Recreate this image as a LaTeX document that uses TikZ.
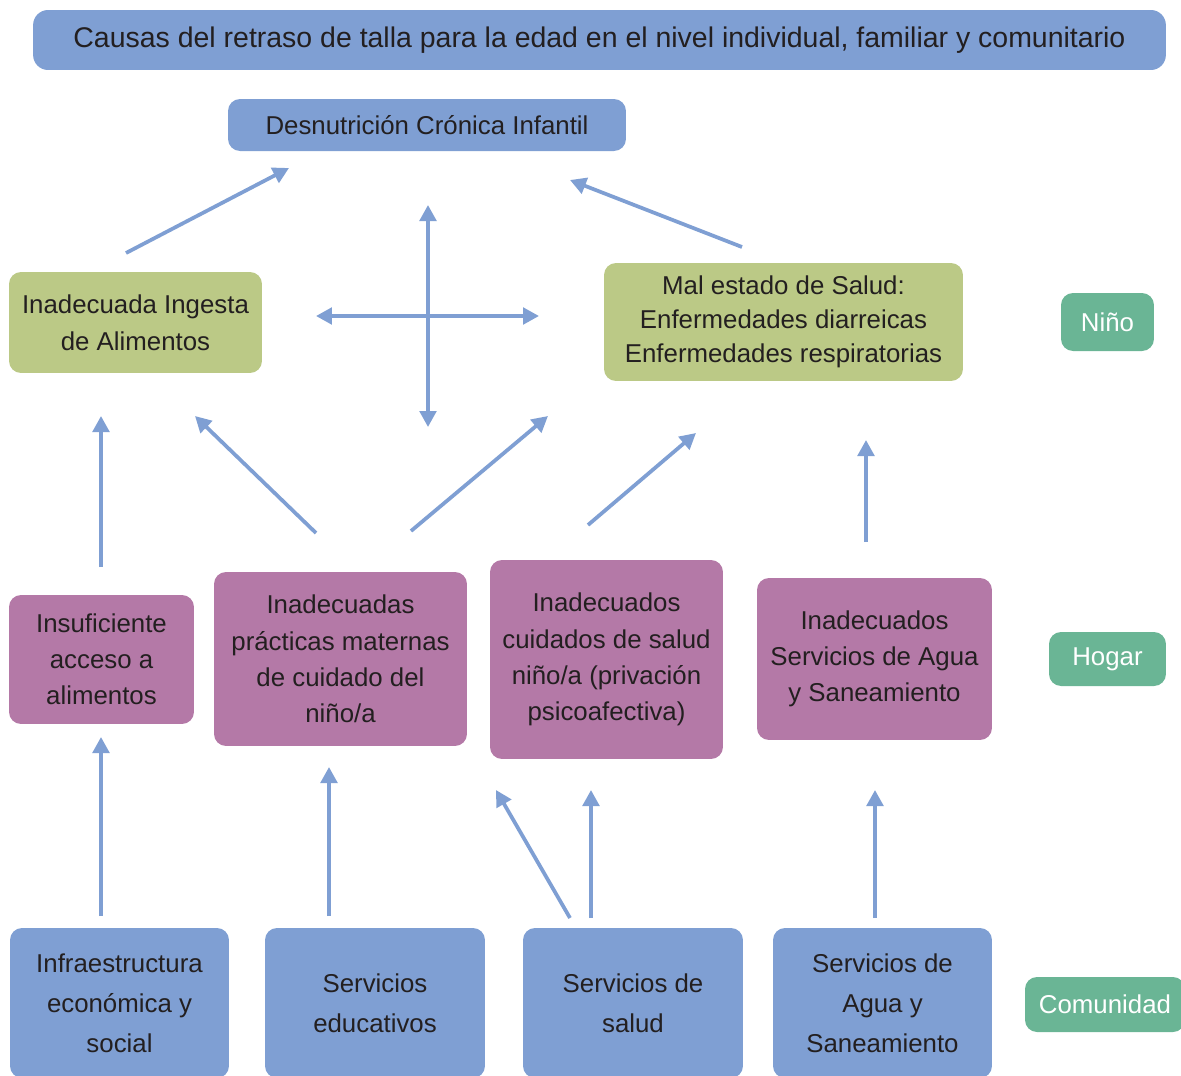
\documentclass[tikz,border=0pt]{standalone}
\usepackage{fontspec}
\setmainfont{Liberation Sans}
\usetikzlibrary{arrows.meta,positioning}
\definecolor{azul}{HTML}{7F9FD3}
\definecolor{oliva}{HTML}{BBC986}
\definecolor{malva}{HTML}{B479A7}
\definecolor{verde}{HTML}{6AB595}
\definecolor{texto}{HTML}{231F20}
\tikzset{>={Triangle[width=0.33cm,length=0.32cm]}}
\tikzset{caja/.style={rounded corners=0.24cm, text=texto, align=center,
    inner sep=0pt, font=\fontsize{14.7}{20.6}\selectfont}}
\tikzset{nivel/.style={caja, fill=verde, text=white}}
\tikzset{flecha/.style={->, draw=azul, line width=0.075cm}}

\begin{document}
\begin{tikzpicture}[x=0.02cm, y=-0.02cm]
  \useasboundingbox (0,0) rectangle (1181,1076);

  % causas
  \node[caja, fill=azul, minimum width=22.66cm, minimum height=1.2cm, rounded corners=0.3cm,
    font=\fontsize{16.2}{20}\selectfont]
    (titulo) at (599.5,40) {Causas del retraso de talla para la edad en el nivel individual, familiar y comunitario};
  \node[caja, fill=azul, minimum width=7.96cm, minimum height=1.04cm] (dci) at (427,125)
    {Desnutrición Crónica Infantil};

  % nino
  \node[caja, fill=oliva, minimum width=5.06cm, minimum height=2.02cm,
    font=\fontsize{14.7}{21}\selectfont] (ingesta) at (135.5,322.5)
    {Inadecuada Ingesta\\de Alimentos};
  \node[caja, fill=oliva, minimum width=7.18cm, minimum height=2.36cm,
    font=\fontsize{14.7}{19.5}\selectfont] (salud) at (783.5,322)
    {Mal estado de Salud:\\Enfermedades diarreicas\\Enfermedades respiratorias};

  % hogar
  \node[caja, fill=malva, minimum width=3.7cm, minimum height=2.58cm] (acceso) at (101.5,659.5)
    {Insuficiente\\acceso a\\alimentos};
  \node[caja, fill=malva, minimum width=5.06cm, minimum height=3.48cm] (practicas) at (340.5,659)
    {Inadecuadas\\prácticas maternas\\de cuidado del\\niño/a};
  \node[caja, fill=malva, minimum width=4.66cm, minimum height=3.98cm] (cuidados) at (606.5,659.5)
    {Inadecuados\\cuidados de salud\\niño/a (privación\\psicoafectiva)};
  \node[caja, fill=malva, minimum width=4.7cm, minimum height=3.24cm] (aguahogar) at (874.5,659)
    {Inadecuados\\Servicios de Agua\\y Saneamiento};

  % comunidad
  \node[caja, fill=azul, minimum width=4.38cm, minimum height=3cm,
    font=\fontsize{14.7}{22.7}\selectfont] (infra) at (119.5,1003)
    {Infraestructura\\económica y\\social};
  \node[caja, fill=azul, minimum width=4.4cm, minimum height=3cm,
    font=\fontsize{14.7}{22.7}\selectfont] (educ) at (375,1003)
    {Servicios\\educativos};
  \node[caja, fill=azul, minimum width=4.4cm, minimum height=3cm,
    font=\fontsize{14.7}{22.7}\selectfont] (servsalud) at (633,1003)
    {Servicios de\\salud};
  \node[caja, fill=azul, minimum width=4.38cm, minimum height=3cm,
    font=\fontsize{14.7}{22.7}\selectfont] (aguacom) at (882.5,1003)
    {Servicios de\\Agua y\\Saneamiento};

  % niveles
  \node[nivel, minimum width=1.86cm, minimum height=1.16cm] (nino) at (1107.5,322) {Niño};
  \node[nivel, minimum width=2.34cm, minimum height=1.08cm] (hogar) at (1107.5,659) {Hogar};
  \node[nivel, minimum width=3.2cm, minimum height=1.1cm] (comunidad) at (1105,1004.5) {Comunidad};

  % puntas de las flechas
  \coordinate (ingesta-sale) at (126,253);
  \coordinate (dci-izq) at (289,168);
  \coordinate (salud-sale) at (742,247);
  \coordinate (dci-der) at (570,180);
  \coordinate (cruz-arriba) at (428,205);
  \coordinate (cruz-abajo) at (428,427);
  \coordinate (cruz-izq) at (316,316);
  \coordinate (cruz-der) at (539,316);
  \coordinate (acceso-sale) at (101,567);
  \coordinate (ingesta-a) at (101,416);
  \coordinate (practicas-a) at (316,533);
  \coordinate (ingesta-b) at (195,416);
  \coordinate (practicas-b) at (411,531);
  \coordinate (salud-a) at (548,416);
  \coordinate (cuidados-sale) at (588,525);
  \coordinate (salud-b) at (696,433);
  \coordinate (aguahogar-sale) at (866,542);
  \coordinate (salud-c) at (866,440);
  \coordinate (infra-sale) at (101,916);
  \coordinate (acceso-llega) at (101,737);
  \coordinate (educ-sale) at (329,916);
  \coordinate (practicas-llega) at (329,767);
  \coordinate (servsalud-a) at (570,918);
  \coordinate (cuidados-a) at (496,790);
  \coordinate (servsalud-b) at (591,918);
  \coordinate (cuidados-b) at (591,790);
  \coordinate (aguacom-sale) at (875,918);
  \coordinate (aguahogar-llega) at (875,790);

  \draw[flecha] (ingesta-sale) -- (dci-izq);
  \draw[flecha] (salud-sale) -- (dci-der);
  \draw[flecha, <->] (cruz-arriba) -- (cruz-abajo);
  \draw[flecha, <->] (cruz-izq) -- (cruz-der);
  \draw[flecha] (acceso-sale) -- (ingesta-a);
  \draw[flecha] (practicas-a) -- (ingesta-b);
  \draw[flecha] (practicas-b) -- (salud-a);
  \draw[flecha] (cuidados-sale) -- (salud-b);
  \draw[flecha] (aguahogar-sale) -- (salud-c);
  \draw[flecha] (infra-sale) -- (acceso-llega);
  \draw[flecha] (educ-sale) -- (practicas-llega);
  \draw[flecha] (servsalud-a) -- (cuidados-a);
  \draw[flecha] (servsalud-b) -- (cuidados-b);
  \draw[flecha] (aguacom-sale) -- (aguahogar-llega);
\end{tikzpicture}
\end{document}
